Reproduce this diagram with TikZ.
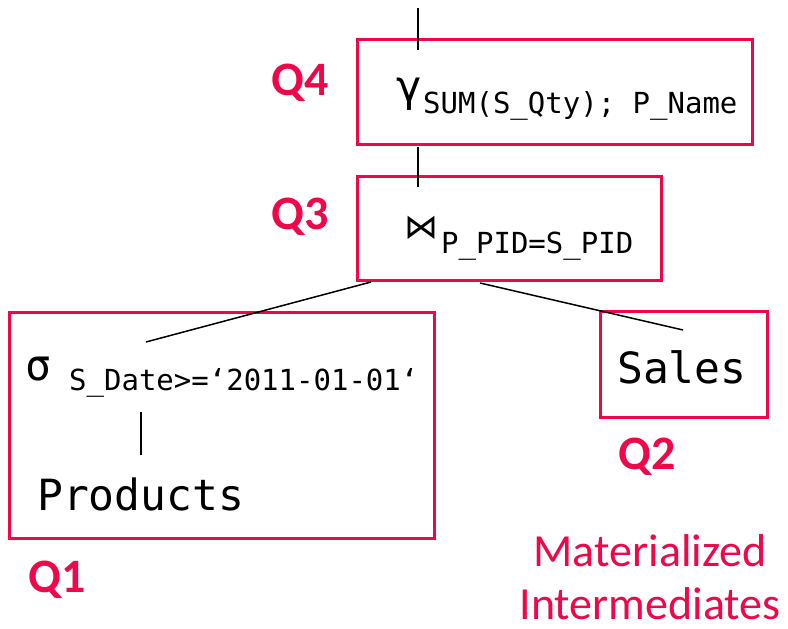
\documentclass[tikz,border=0pt]{standalone}
\usepackage{fontspec}
\usepackage{tikz}
\newfontfamily\codefont{DejaVu Sans Mono}
\newfontfamily\qfont{Carlito}
\newfontfamily\opfont{DejaVu Sans}
\definecolor{qred}{RGB}{238,8,74}
\newcommand{\us}{\char"5F\relax}
\tikzset{
  opbox/.style={draw=qred,line width=3pt,inner sep=0pt},
  qlabel/.style={text=qred,font=\qfont\fontsize{48}{48}\selectfont\bfseries},
  notetext/.style={text=qred,anchor=base,inner sep=0pt,font=\qfont\fontsize{46}{46}\selectfont},
  optext/.style={anchor=base west,inner sep=0pt,font=\codefont\fontsize{43}{43}\selectfont},
  subtext/.style={anchor=base west,inner sep=0pt,font=\codefont\fontsize{29}{29}\selectfont},
}

\begin{document}
\begin{tikzpicture}[x=1pt,y=-1pt]
    \useasboundingbox (0,0) rectangle (788,629);
    % operator boxes
    \node [opbox,minimum width=395pt,minimum height=105pt] (q4) at (554.5,91.5) {};
    \node [opbox,minimum width=304pt,minimum height=104pt] (q3) at (509,228) {};
    \node [opbox,minimum width=425pt,minimum height=226pt] (q1) at (221.5,425) {};
    \node [opbox,minimum width=167pt,minimum height=106pt] (q2) at (683.5,364) {};
    % operators
    \node [optext] (gam) at (396,101) {γ};
    \node [subtext] (gamsub) at (423,113) {SUM(S\us Qty); P\us Name};
    \node [optext,font=\opfont\fontsize{34}{34}\selectfont] (join) at (404,238) {⋈};
    \node [subtext] (joinsub) at (441,253) {P\us PID=S\us PID};
    \node [optext] (sig) at (25,380) {σ};
    \node [subtext] (sigsub) at (69,390) {S\us Date>=‘2011-01-01‘};
    \node [optext] (prod) at (37,510) {Products};
    \node [optext] (sales) at (617,383) {Sales};
    % tree edges
    \coordinate (top) at (418,8);
    \coordinate (gamtop) at (418,50);
    \coordinate (q4bot) at (418,147);
    \coordinate (jointop) at (418,187);
    \coordinate (joinl) at (371,282);
    \coordinate (joinr) at (480,283);
    \coordinate (sigend) at (146,342);
    \coordinate (salesend) at (683,330);
    \coordinate (sigbot) at (141,412);
    \coordinate (prodtop) at (141,455);
    \draw [line width=1.5pt] (top) -- (gamtop);
    \draw [line width=1.5pt] (q4bot) -- (jointop);
    \draw [line width=1.5pt] (joinl) -- (sigend);
    \draw [line width=1.5pt] (joinr) -- (salesend);
    \draw [line width=1.5pt] (sigbot) -- (prodtop);
    % labels
    \node [qlabel] (l4) at (300,83) {Q4};
    \node [qlabel] (l3) at (300,217) {Q3};
    \node [qlabel] (l1) at (57,580) {Q1};
    \node [qlabel] (l2) at (647,457) {Q2};
    \node [notetext] (mat) at (650,566) {Materialized};
    \node [notetext] (inter) at (650,619) {Intermediates};
\end{tikzpicture}
\end{document}
